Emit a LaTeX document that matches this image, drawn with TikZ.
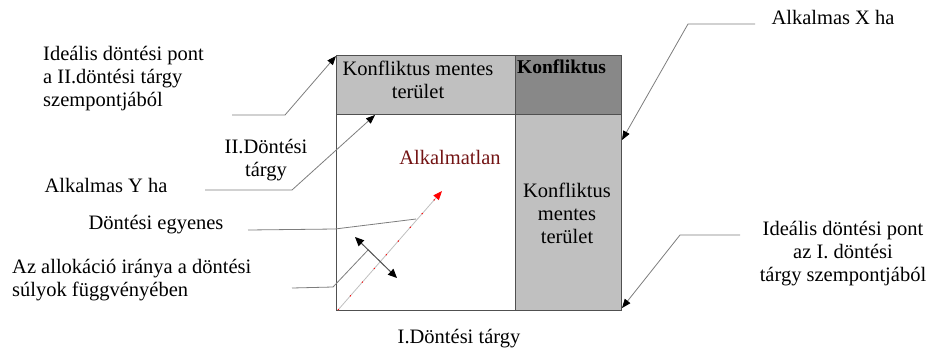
\documentclass[tikz,border=0pt]{standalone}
\usepackage{fontspec}
\setmainfont{Liberation Serif}
\usetikzlibrary{arrows.meta}
\definecolor{lightg}{RGB}{192,192,192}
\definecolor{darkg}{RGB}{136,136,136}
\definecolor{leadc}{RGB}{125,125,125}
\definecolor{boxc}{RGB}{80,80,80}
\definecolor{maroon}{RGB}{115,20,20}
\tikzset{
  lbl/.style={inner sep=0pt, font=\fontsize{20.5}{23}\selectfont},
  leader/.style={draw=leadc, line width=0.8pt, -{Triangle[length=9pt,width=7pt,color=black]}},
  boxline/.style={draw=boxc, line width=1pt},
}
\begin{document}
\begin{tikzpicture}[x=1pt,y=-1pt]
\useasboundingbox (0,0) rectangle (931,349);
% regions
\fill[lightg] (336,55) rectangle (515,114);
\fill[darkg] (515,55) rectangle (621,114);
\fill[lightg] (515,114) rectangle (621,310);
\draw[boxline] (336,55) rectangle (621,310);
\draw[boxline] (336,114) -- (621,114);
\draw[boxline] (515,55) -- (515,310);

% texts inside
\node[lbl, anchor=north, align=center] (kmtop) at (418,61) {Konfliktus mentes\\terület};
\node[lbl, anchor=base west, font=\fontsize{19.5}{23}\selectfont\bfseries] (konf) at (517,73) {Konfliktus};
\node[lbl, anchor=north, align=center] (kmright) at (567,183) {Konfliktus\\mentes\\terület};
\node[lbl, anchor=base, text=maroon] (alkm) at (450,164) {Alkalmatlan};

% outside labels
\node[lbl, anchor=north west, align=left] (idealII) at (43,46) {Ideális döntési pont\\a II.döntési tárgy\\szempontjából};
\node[lbl, anchor=north, align=center] (targyII) at (266,139) {II.Döntési\\tárgy};
\node[lbl, anchor=base] (alkY) at (106,192) {Alkalmas Y ha};
\node[lbl, anchor=base] (egyenes) at (156,229) {Döntési egyenes};
\node[lbl, anchor=north west, align=left] (allok) at (12,259) {Az allokáció iránya a döntési\\súlyok függvényében};
\node[lbl, anchor=base] (alkX) at (833,24) {Alkalmas X ha};
\node[lbl, anchor=north, align=center] (idealI) at (843,221) {Ideális döntési pont\\az I. döntési\\tárgy szempontjából};
\node[lbl, anchor=base] (targyI) at (459,343) {I.Döntési tárgy};

% leader coordinates
\coordinate (a1) at (232,115); \coordinate (b1) at (285,115); \coordinate (t1) at (336,56);
\coordinate (a2) at (205,190); \coordinate (b2) at (292,190); \coordinate (t2) at (375,115);
\coordinate (a3) at (248,230); \coordinate (b3) at (335,229); \coordinate (t3) at (416,219);
\coordinate (a4) at (292,288); \coordinate (b4) at (333,287); \coordinate (t4) at (368,250);
\coordinate (a5) at (755,24);  \coordinate (b5) at (688,24);  \coordinate (t5) at (622,140);
\coordinate (a6) at (740,235); \coordinate (b6) at (680,235); \coordinate (t6) at (622,308);

\draw[leader] (a1) -- (b1) -- (t1);
\draw[leader] (a2) -- (b2) -- (t2);
\draw[draw=leadc, line width=0.8pt] (a3) -- (b3) -- (t3);
\draw[draw=leadc, line width=0.8pt] (a4) -- (b4) -- (t4);
\draw[leader] (a5) -- (b5) -- (t5);
\draw[leader] (a6) -- (b6) -- (t6);

% decision line and allocation direction
\coordinate (d0) at (338,310); \coordinate (d1) at (442,191);
\draw[draw=black!25, line width=0.8pt, -{Triangle[length=9pt,width=7pt,color=red]},
      postaction={draw=red, line width=1pt, dash pattern=on 1.2pt off 17pt, arrows=-}] (d0) -- (d1);
\coordinate (u0) at (355,237); \coordinate (u1) at (397,278);
\draw[draw=black!70, line width=1pt, {Triangle[length=9pt,width=8pt,color=black]}-{Triangle[length=9pt,width=8pt,color=black]}] (u0) -- (u1);
\end{tikzpicture}
\end{document}
